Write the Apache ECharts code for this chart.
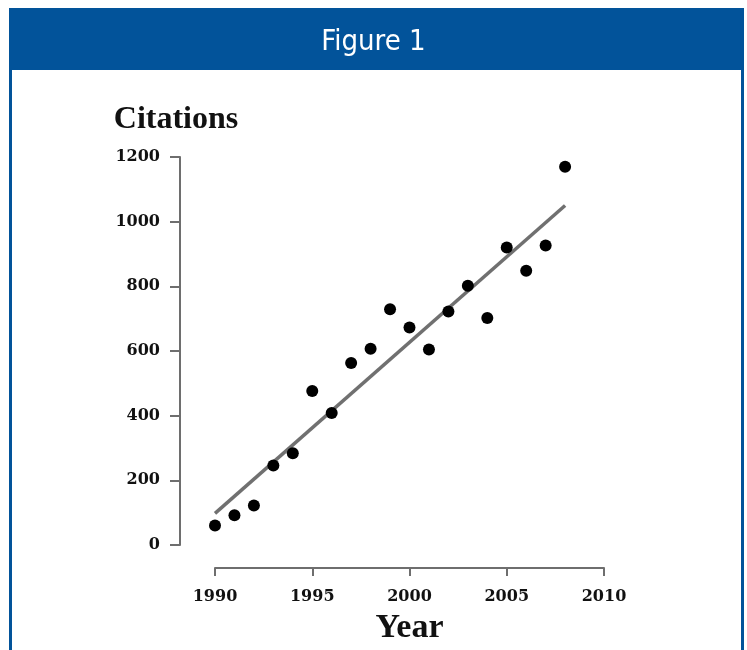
<!DOCTYPE html>
<html>
<head>
<meta charset="utf-8">
<script src="https://cdn.jsdelivr.net/npm/echarts@6/dist/echarts.min.js"></script>
<style>html,body{margin:0;padding:0;background:#fff;}#c{width:747px;height:650px;}</style>
</head>
<body>
<div id="c"></div>
<script>
const years = [1990,1991,1992,1993,1994,1995,1996,1997,1998,1999,2000,2001,2002,2003,2004,2005,2006,2007,2008];
const citations = [60,92,122,246,284,476,408,563,607,729,673,605,722,802,702,920,848,926,1170];
const trendYears = [1990, 2008];
const trendValues = [98, 1050];
const yTicks = [0,200,400,600,800,1000,1200];
const xTicks = [1990,1995,2000,2005,2010];

const chart = echarts.init(document.getElementById('c'), null, {renderer:'canvas'});
const blue = '#02539A';
const axisGray = '#6e6e6e';
const option = {
  animation:false,
  backgroundColor:'#fff',
  title:{
    text:'Figure 1', left:'center', top:23,
    textStyle:{color:'#fff', fontFamily:'"DejaVu Sans Condensed","Liberation Sans Narrow","DejaVu Sans",sans-serif', fontSize:29, fontWeight:'normal'}
  },
  graphic:[
    {type:'rect', z:-1, shape:{x:9,y:8,width:735,height:62}, style:{fill:blue}},
    {type:'rect', z:-1, shape:{x:9,y:70,width:3,height:580}, style:{fill:blue}},
    {type:'rect', z:-1, shape:{x:741,y:70,width:3,height:580}, style:{fill:blue}}
  ],
  grid:{left:215, right:143, top:157, bottom:104, containLabel:false},
  xAxis:{
    type:'value', min:xTicks[0], max:xTicks[xTicks.length-1], interval:5, offset:23,
    name:'Year', nameLocation:'middle', nameGap:43,
    nameTextStyle:{fontFamily:'"Liberation Serif","Times New Roman",serif', fontWeight:'bold', fontSize:34, color:'#111'},
    axisLine:{show:true, onZero:false, lineStyle:{color:axisGray, width:2}},
    axisTick:{show:true, length:8, inside:false, lineStyle:{color:axisGray, width:2}},
    axisLabel:{margin:21, color:'#111', fontFamily:'"DejaVu Serif",serif', fontWeight:'bold', fontSize:16,
      formatter:v=>String(v)},
    splitLine:{show:false}
  },
  yAxis:{
    type:'value', min:yTicks[0], max:yTicks[yTicks.length-1], interval:200, offset:35,
    name:'Citations', nameLocation:'end', nameGap:21,
    nameTextStyle:{fontFamily:'"Liberation Serif","Times New Roman",serif', fontWeight:'bold', fontSize:32, color:'#111', align:'center', padding:[0,8,0,0]},
    axisLine:{show:true, onZero:false, lineStyle:{color:axisGray, width:2}},
    axisTick:{show:true, length:10, inside:false, lineStyle:{color:axisGray, width:2}},
    axisLabel:{margin:20, color:'#111', fontFamily:'"DejaVu Serif",serif', fontWeight:'bold', fontSize:16,
      padding:[4,0,0,0], formatter:v=>String(v)},
    splitLine:{show:false}
  },
  series:[
    {type:'line', data:trendYears.map((y,i)=>[y,trendValues[i]]), showSymbol:false, symbol:'none',
      lineStyle:{color:'#707070', width:3.5}, z:2},
    {type:'scatter', data:years.map((y,i)=>[y,citations[i]]), symbol:'circle', symbolSize:12,
      itemStyle:{color:'#000', opacity:1}, z:3}
  ]
};
chart.setOption(option);
</script>
</body>
</html>
